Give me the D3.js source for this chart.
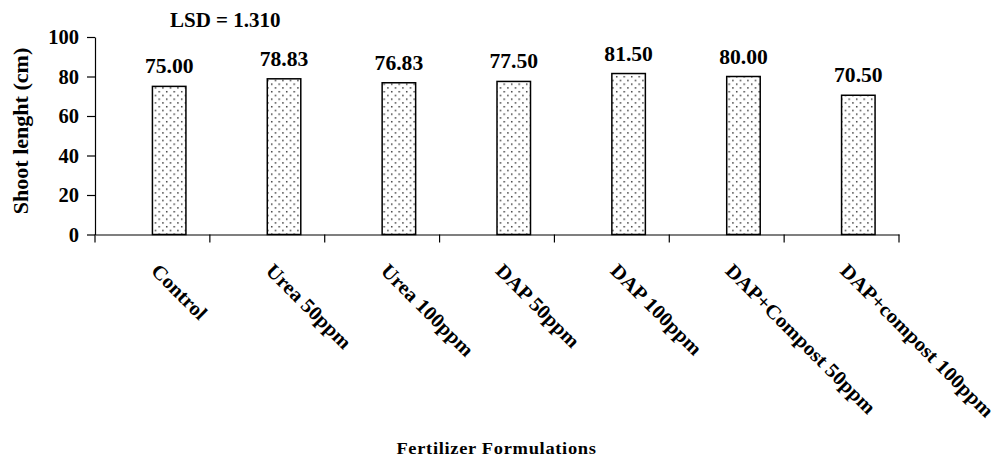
<!DOCTYPE html>
<html>
<head>
<meta charset="utf-8">
<script src="https://cdn.jsdelivr.net/npm/d3@7"></script>
<style>
  html, body { margin: 0; padding: 0; background: #fff; }
  svg { display: block; }
  text { font-family: "Liberation Serif", "Times New Roman", serif; font-weight: bold; fill: #000; }
</style>
</head>
<body>
<svg id="chart" width="997" height="459"></svg>
<script>
const categories = ["Control", "Urea 50ppm", "Urea 100ppm", "DAP 50ppm", "DAP 100ppm", "DAP+Compost 50ppm", "DAP+compost 100ppm"];
const values = [75.00, 78.83, 76.83, 77.50, 81.50, 80.00, 70.50];
const yTicks = [0, 20, 40, 60, 80, 100];
const yTitle = "Shoot lenght (cm)";
const xTitle = "Fertilizer Formulations";
const lsdText = "LSD = 1.310";

(function () {
const svg = d3.select("#chart");
const mLeft = 95, mRight = 899, mTop = 37, mBottom = 234.5;

const x = d3.scaleBand().domain(categories).range([mLeft, mRight]).paddingInner(0).paddingOuter(0);
const y = d3.scaleLinear().domain([0, 100]).range([mBottom, mTop]);

// pattern
const defs = svg.append("defs");
const pat = defs.append("pattern").attr("id", "dots").attr("patternUnits", "userSpaceOnUse")
  .attr("width", 7.5).attr("height", 7.5);
pat.append("rect").attr("width", 7.5).attr("height", 7.5).attr("fill", "#fff");
pat.append("rect").attr("x", 1).attr("y", 1).attr("width", 1.4).attr("height", 1.4).attr("fill", "#222");
pat.append("rect").attr("x", 4.75).attr("y", 4.75).attr("width", 1.4).attr("height", 1.4).attr("fill", "#222");

// bars (start at band centre, as in the original)
const barW = 33.5;
svg.append("g").selectAll("rect").data(categories).join("rect")
  .attr("x", d => x(d) + x.bandwidth() / 2)
  .attr("y", (d, i) => y(values[i]))
  .attr("width", barW)
  .attr("height", (d, i) => y(0) - y(values[i]))
  .attr("fill", "url(#dots)")
  .attr("stroke", "#000")
  .attr("stroke-width", 1.5);

// value labels
svg.append("g").selectAll("text").data(categories).join("text")
  .attr("transform", (d, i) => `translate(${x(d) + x.bandwidth() / 2 + barW / 2},${y(values[i]) - 13}) scale(1.08,1)`)
  .attr("text-anchor", "middle")
  .attr("font-size", "20px")
  .text((d, i) => values[i].toFixed(2));

// y axis
const yAxis = svg.append("g").attr("transform", `translate(${mLeft},0)`)
  .call(d3.axisLeft(y).tickValues(yTicks).tickSize(8).tickSizeOuter(0).tickPadding(8).tickFormat(d3.format("d")));
yAxis.select(".domain").attr("stroke", "#000").attr("stroke-width", 1.2);
yAxis.selectAll(".tick line").attr("stroke", "#000").attr("stroke-width", 1.2);
yAxis.selectAll(".tick text")
  .attr("font-size", "20.5px")
  .attr("font-family", "Liberation Serif, Times New Roman, serif")
  .attr("font-weight", "bold").attr("fill", "#000");

// x axis line and ticks at band edges
const xAxis = svg.append("g").attr("transform", `translate(0,${mBottom})`)
  .call(d3.axisBottom(x).tickSize(0).tickSizeOuter(0).tickFormat(""));
xAxis.select(".domain").attr("stroke", "#000").attr("stroke-width", 1.2);
const edges = categories.map(d => x(d)).concat([x.range()[1]]);
svg.append("g").selectAll("line").data(edges).join("line")
  .attr("x1", d => d).attr("x2", d => d)
  .attr("y1", mBottom).attr("y2", mBottom + 8)
  .attr("stroke", "#000").attr("stroke-width", 1.2);

// rotated category labels
svg.append("g").selectAll("text").data(categories).join("text")
  .attr("transform", d => `translate(${x(d) + x.bandwidth() / 2 - 2.5},272) rotate(45) scale(1.05,1)`)
  .attr("text-anchor", "start")
  .attr("font-size", "20px")
  .text(d => d);

// titles
svg.append("text")
  .attr("transform", `translate(28,131) rotate(-90) scale(1.05,1)`)
  .attr("text-anchor", "middle")
  .attr("font-size", "21px")
  .text(yTitle);

svg.append("text")
  .attr("transform", `translate(496.5,454) scale(1.12,1)`)
  .attr("text-anchor", "middle")
  .attr("font-size", "16.5px")
  .attr("letter-spacing", "0.6px")
  .text(xTitle);

svg.append("text")
  .attr("transform", `translate(170,27)`)
  .attr("text-anchor", "start")
  .attr("font-size", "21px")
  .text(lsdText);
})();
</script>
</body>
</html>
